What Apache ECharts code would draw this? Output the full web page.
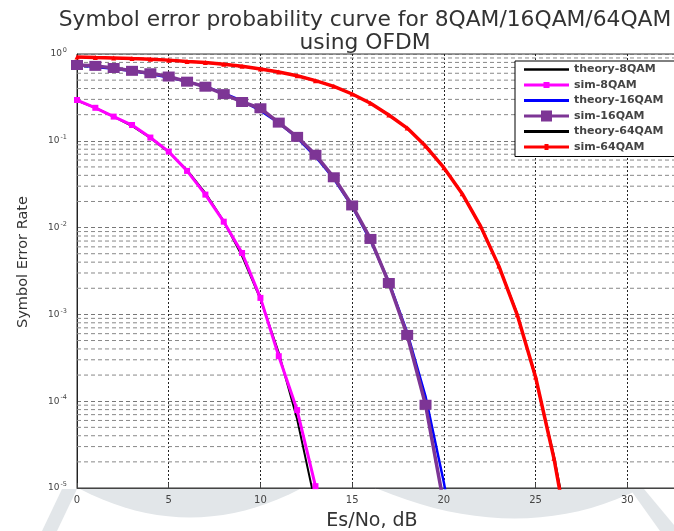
<!DOCTYPE html>
<html>
<head>
<meta charset="utf-8">
<script src="https://cdn.jsdelivr.net/npm/echarts@6/dist/echarts.min.js"></script>
<style>
  html, body { margin: 0; padding: 0; background: #fff; }
  #chart { width: 674px; height: 531px; }
</style>
</head>
<body>
<div id="chart"></div>
<script>
// Es/No in dB, one point per dB
const esNo = [0,1,2,3,4,5,6,7,8,9,10,11,12,13,14,15,16,17,18,19,20,21,22,23,24,25,26,27]

// symbol error rate
const theory8 = [0.29,0.24,0.19,0.148,0.108,0.074,0.046,0.025,0.0118,0.0047,0.0015,0.00036,0.000062,0.0000065,0.0000004]
const sim8 = [0.295,0.24,0.19,0.152,0.109,0.075,0.045,0.024,0.0117,0.0051,0.00155,0.00033,0.000079,0.0000105]
const theory16 = [0.741,0.71,0.675,0.635,0.589,0.5375,0.481,0.419,0.3536,0.2876,0.222,0.1602,0.1082,0.0659,0.0365,0.0175,0.00709,0.00238,0.00062,0.000114,0.0000116,0.00000082]
const sim16 = [0.747,0.73,0.69,0.64,0.6,0.55,0.48,0.42,0.345,0.28,0.237,0.162,0.111,0.069,0.038,0.018,0.0074,0.0023,0.00058,0.000091,0.0000065]
const theory64 = [0.924,0.9135,0.901,0.8865,0.869,0.8486,0.824,0.795,0.7606,0.7203,0.6735,0.6203,0.5605,0.494,0.4226,0.347,0.2703,0.199,0.1393,0.0888,0.0491,0.0245,0.0103,0.00359,0.00102,0.000184,0.0000235,0.0000019]
const sim64 = [0.925,0.912,0.902,0.885,0.87,0.85,0.822,0.796,0.76,0.722,0.672,0.62,0.561,0.493,0.424,0.346,0.271,0.198,0.14,0.087,0.049,0.0246,0.0104,0.0036,0.00099,0.00019,0.000022,0.0000015]

const xTicks = [0,5,10,15,20,25,30,35]
const decades = [-5,-4,-3,-2,-1]

const font = "'DejaVu Sans', sans-serif"

const pairs = (vals) => vals.map((v, i) => [esNo[i], v])

// minor grid lines of the log axis (2..9 x 10^n), one broken line series
const minorGrid = []
decades.forEach(d => {
  for (let k = 2; k <= 9; k++) {
    const v = k * Math.pow(10, d)
    minorGrid.push([0, v], [35, v], [35, '-'])
  }
})

// grey scallop under the axis (scan artefact): flat top, curved bottom
const scallop = (x0, x1, cx, cy) => {
  const pts = [[x0, 489], [x1, 489]]
  for (let t = 0; t <= 1.0001; t += 0.05) {
    const a = 1 - t
    pts.push([a * a * x1 + 2 * a * t * cx + t * t * x0, a * a * 489 + 2 * a * t * cy + t * t * 489])
  }
  return pts
}

const chart = echarts.init(document.getElementById('chart'))

const option = {
  backgroundColor: '#fff',
  animation: false,
  title: {
    text: 'Symbol error probability curve for 8QAM/16QAM/64QAM\nusing OFDM',
    left: 360,
    top: 4,
    textAlign: 'center',
    textStyle: { fontFamily: font, fontSize: 21.8, fontWeight: 'normal', color: '#333', lineHeight: 23 }
  },
  grid: {
    left: 77, top: 54, height: 434, width: 642,
    outerBoundsMode: 'none', containLabel: false,
    show: true, borderColor: '#333', borderWidth: 1
  },
  legend: {
    data: [
      { name: 'theory-8QAM', icon: 'path://M0,0H45V2.5H0Z' },
      { name: 'sim-8QAM', icon: 'path://M0,1.5H45V4.5H0Z M19.5,0H25.5V6H19.5Z' },
      { name: 'theory-16QAM', icon: 'path://M0,0H45V3H0Z' },
      { name: 'sim-16QAM', icon: 'path://M0,4H45V7H0Z M17,0H28V11H17Z' },
      { name: 'theory-64QAM', icon: 'path://M0,0H45V3H0Z' },
      { name: 'sim-64QAM', icon: 'path://M0,1.5H45V4.5H0Z M20.5,0H24.5V6H20.5Z' }
    ],
    orient: 'vertical',
    left: 515,
    top: 61,
    padding: [3, 40, 4, 9],
    itemWidth: 45,
    itemHeight: 12,
    itemGap: 4.5,
    backgroundColor: '#fff',
    borderColor: '#000',
    borderWidth: 1,
    borderRadius: 0,
    textStyle: { fontFamily: font, fontSize: 11, fontWeight: 'bold', color: '#444' }
  },
  xAxis: {
    type: 'value',
    min: 0, max: 35, interval: 5,
    axisLine: { show: true, onZero: false, lineStyle: { color: '#444' } },
    axisTick: { show: true, inside: true, length: 5, lineStyle: { color: '#444' } },
    axisLabel: {
      margin: 7, fontFamily: font, fontSize: 10, color: '#444',
      formatter: v => xTicks.includes(v) ? String(v) : ''
    },
    splitLine: { show: true, lineStyle: { color: '#222', type: [2, 2], width: 1 } }
  },
  yAxis: {
    type: 'log',
    logBase: 10,
    min: 0.00001, max: 1,
    axisLine: { show: true, lineStyle: { color: '#222' } },
    axisTick: { show: false },
    axisLabel: {
      margin: 10,
      formatter: v => '{b|10}{s|' + Math.round(Math.log10(v)) + '}',
      rich: {
        b: { fontFamily: font, fontSize: 9, color: '#444', lineHeight: 14 },
        s: { fontFamily: font, fontSize: 6.5, color: '#444', verticalAlign: 'top', lineHeight: 14, padding: [0, 0, 6, 1] }
      }
    },
    splitLine: { show: true, lineStyle: { color: '#777', type: [4, 3], width: 1 } }
  },
  series: [
    {
      name: 'minor grid', type: 'line', data: minorGrid, z: 1, silent: true,
      showSymbol: false, symbol: 'none', connectNulls: false,
      lineStyle: { color: '#888', type: [4, 3], width: 1 }
    },
    {
      name: 'theory-8QAM', type: 'line', data: pairs(theory8),
      showSymbol: false, symbol: 'none', color: '#000',
      lineStyle: { width: 2, color: '#000' }
    },
    {
      name: 'sim-8QAM', type: 'line', data: pairs(sim8),
      symbol: 'rect', symbolSize: 6, color: '#ff00ff',
      lineStyle: { width: 3, color: '#ff00ff' }
    },
    {
      name: 'theory-16QAM', type: 'line', data: pairs(theory16),
      showSymbol: false, symbol: 'none', color: '#0000ff',
      lineStyle: { width: 2.5, color: '#0000ff' }
    },
    {
      name: 'sim-16QAM', type: 'line', data: pairs(sim16),
      symbol: 'rect', symbolSize: [12, 10], color: '#7d3595',
      lineStyle: { width: 3.5, color: '#7d3595' }
    },
    {
      name: 'theory-64QAM', type: 'line', data: pairs(theory64),
      showSymbol: false, symbol: 'none', color: '#000',
      lineStyle: { width: 2, color: '#000' }
    },
    {
      name: 'sim-64QAM', type: 'line', data: pairs(sim64),
      symbol: 'triangle', symbolSize: 5, color: '#ff0000',
      lineStyle: { width: 3.5, color: '#ff0000' }
    }
  ],
  graphic: [
    { type: 'polygon', z: -10, silent: true, shape: { points: [[62, 489], [77, 489], [57, 531], [42, 531]] }, style: { fill: '#e2e6e9' } },
    { type: 'polygon', z: -10, silent: true, shape: { points: scallop(80, 300, 190, 546) }, style: { fill: '#e2e6e9' } },
    { type: 'polygon', z: -10, silent: true, shape: { points: scallop(378, 640, 520, 548) }, style: { fill: '#e2e6e9' } },
    { type: 'polygon', z: -10, silent: true, shape: { points: [[630, 489], [644, 489], [674, 525], [674, 531], [660, 531]] }, style: { fill: '#e2e6e9' } },
    {
      type: 'text', z: 10, x: 372, y: 521,
      style: { text: 'Es/No, dB', x: 0, y: 0, textAlign: 'center', textVerticalAlign: 'middle', font: "19px 'DejaVu Sans', sans-serif", fill: '#333' }
    },
    {
      type: 'text', z: 10, x: 23, y: 262, rotation: Math.PI / 2,
      style: { text: 'Symbol Error Rate', x: 0, y: 0, textAlign: 'center', textVerticalAlign: 'middle', font: "14.5px 'DejaVu Sans', sans-serif", fill: '#333' }
    }
  ]
}

chart.setOption(option)
window.addEventListener('resize', () => { chart.resize() })
</script>
</body>
</html>
